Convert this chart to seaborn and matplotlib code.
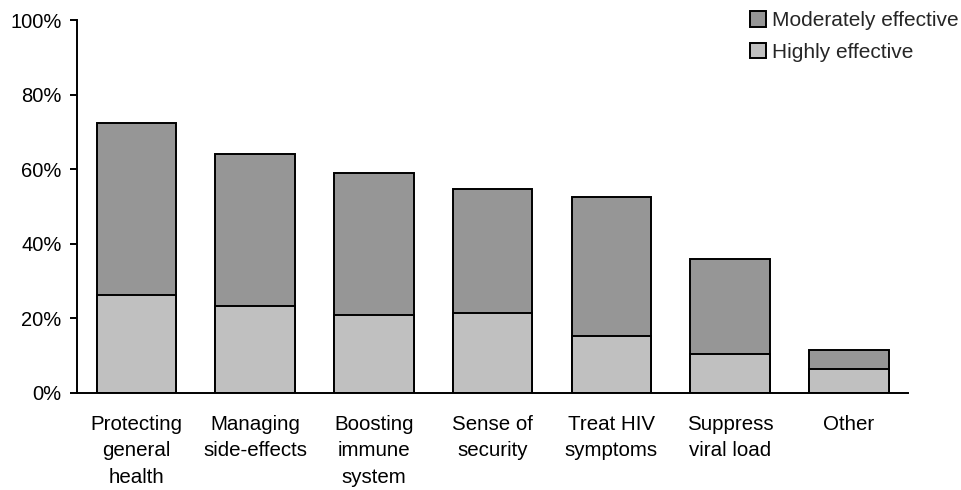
import numpy as np
import pandas as pd
import matplotlib
matplotlib.use("Agg")
import matplotlib.pyplot as plt
from matplotlib.patches import Patch
import seaborn as sns

categories = [
    "Protecting\ngeneral\nhealth",
    "Managing\nside-effects",
    "Boosting\nimmune\nsystem",
    "Sense of\nsecurity",
    "Treat HIV\nsymptoms",
    "Suppress\nviral load",
    "Other",
]
highly = [26.3, 23.3, 21.0, 21.5, 15.4, 10.5, 6.5]
moderately = [46.1, 40.8, 38.1, 33.3, 37.2, 25.3, 4.9]

MOD_COLOR = "#969696"
HIGH_COLOR = "#c0c0c0"

df = pd.DataFrame({"category": categories, "highly": highly, "moderately": moderately})
df["total"] = df["highly"] + df["moderately"]

sns.set_style("white")
plt.rcParams["font.family"] = ["Liberation Sans", "DejaVu Sans"]

fig = plt.figure(figsize=(9.62, 4.9), dpi=100)
ax = fig.add_axes([0.080, 0.198, 0.864, 0.761])

# total bars first, then the highly-effective part over them
sns.barplot(data=df, x="category", y="total", color=MOD_COLOR, edgecolor="black",
            linewidth=1.4, width=0.67, saturation=1, ax=ax)
sns.barplot(data=df, x="category", y="highly", color=HIGH_COLOR, edgecolor="black",
            linewidth=1.4, width=0.67, saturation=1, ax=ax)

ax.set_xlim(-0.5, len(categories) - 0.5)
ax.set_ylim(0, 100)
ax.set_yticks(np.arange(0, 101, 20))
ax.set_yticklabels([f"{v}%" for v in range(0, 101, 20)])
ax.set_xlabel("")
ax.set_ylabel("")

for side in ["top", "right"]:
    ax.spines[side].set_visible(False)
for side in ["left", "bottom"]:
    ax.spines[side].set_color("black")
    ax.spines[side].set_linewidth(1.4)

ax.set_xticks(np.arange(-0.5, len(categories), 1.0), minor=True)
ax.tick_params(axis="x", which="major", length=0, pad=16, labelsize=14.8, colors="black")
ax.tick_params(axis="x", which="minor", length=5, width=1.4, direction="out", color="black")
ax.tick_params(axis="y", which="major", length=5, width=1.4, direction="out", pad=6,
               labelsize=14.5, colors="black", left=True)
for lab in ax.get_xticklabels():
    lab.set_linespacing(1.48)

handles = [
    Patch(facecolor=MOD_COLOR, edgecolor="black", linewidth=1.4, label="Moderately effective"),
    Patch(facecolor=HIGH_COLOR, edgecolor="black", linewidth=1.4, label="Highly effective"),
]
fig.legend(handles=handles, loc="upper right", bbox_to_anchor=(1.003, 0.99), frameon=False,
           fontsize=15, handlelength=0.75, handleheight=0.75, handletextpad=0.3,
           labelspacing=0.62, borderaxespad=0.0, borderpad=0.3)

fig.savefig("out.png", dpi=100)
